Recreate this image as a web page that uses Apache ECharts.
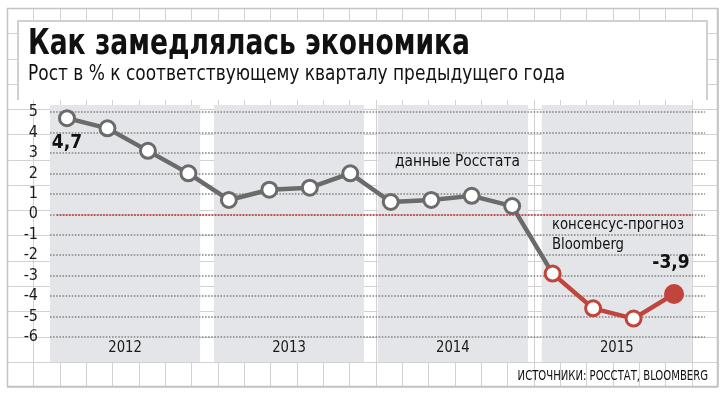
<!DOCTYPE html>
<html lang="ru">
<head>
<meta charset="UTF-8">
<title>Как замедлялась экономика</title>
<script src="https://cdn.jsdelivr.net/npm/echarts@6/dist/echarts.min.js"></script>
<style>
    html, body { margin: 0; padding: 0; background: #fff; }
    #chart { width: 726px; height: 398px; }
</style>
</head>
<body>
<div id="chart"></div>
<script type="text/javascript">
    // growth, % to the same quarter of the previous year
    const years = ['2012', '2013', '2014', '2015'];
    const rosstat = [4.7, 4.2, 3.1, 2.0, 0.7, 1.2, 1.3, 2.0, 0.6, 0.7, 0.9, 0.4];
    const bloomberg = [-2.9, -4.6, -5.1, -3.9];
    const yMin = -6, yMax = 5;

    const NARROW = "'Liberation Sans Narrow', 'DejaVu Sans Condensed', 'Roboto Condensed', 'Liberation Sans', sans-serif";
    const GREY = '#6b6b6b';
    const RED = '#c0453a';
    const comma = v => String(v).replace('.', ',');

    let chart = echarts.init(document.getElementById('chart'));

    let greyData = rosstat.map((v, i) => [i, v]);
    greyData.push({value: [rosstat.length, bloomberg[0]], symbol: 'none'});
    greyData[0] = {value: [0, rosstat[0]], label: {show: true}};

    let redData = bloomberg.map((v, i) => [rosstat.length + i, v]);
    let last = redData.length - 1;
    redData[last] = {
        value: redData[last],
        symbolSize: 17,
        itemStyle: {color: RED},
        label: {show: true}
    };

    chart.setOption({
        animation: false,
        grid: {left: 50, right: 21, top: 112, bottom: 61},
        xAxis: {type: 'value', min: -0.42, max: 15.765, show: false},
        yAxis: {
            type: 'value', min: yMin, max: yMax, interval: 1, z: 2,
            axisLine: {show: false},
            axisTick: {show: false},
            axisLabel: {color: '#1a1a1a', fontFamily: NARROW, fontSize: 16, margin: 12, padding: [7, 0, 0, 0]},
            splitLine: {lineStyle: {color: '#858585', width: 1.6, type: [1.6, 1.5]}}
        },
        series: [
            {
                type: 'line', z: 3, data: [], silent: true,
                markLine: {
                    silent: true, symbol: 'none', label: {show: false},
                    lineStyle: {color: '#d4322a', width: 1.7, type: [1.6, 1.5]},
                    data: [[{coord: [-0.25, 0]}, {coord: [15.47, 0]}]]
                }
            },
            {
                type: 'line', z: 4, data: greyData,
                symbol: 'circle', symbolSize: 15,
                lineStyle: {color: GREY, width: 4.5},
                itemStyle: {color: '#fff', borderColor: GREY, borderWidth: 3},
                label: {
                    show: false, position: 'bottom', distance: 6,
                    formatter: p => comma(p.value[1]),
                    fontFamily: NARROW, fontWeight: 'bold', fontSize: 19, color: '#111'
                }
            },
            {
                type: 'line', z: 5, data: redData,
                symbol: 'circle', symbolSize: 15,
                lineStyle: {color: RED, width: 4.5},
                itemStyle: {color: '#fff', borderColor: RED, borderWidth: 3},
                label: {
                    show: false, position: 'top', distance: 11, offset: [-3, 0],
                    formatter: p => comma(p.value[1]),
                    fontFamily: NARROW, fontWeight: 'bold', fontSize: 19, color: '#111'
                }
            }
        ]
    });

    // graph paper background, title box, year panels
    let g = [];
    const paperLine = '#d2d2d2';
    for (let k = 0; k <= 27; k++) {
        let x = Math.round(7 + k * 26.33) + 0.5;
        g.push({type: 'line', z: 0, silent: true, shape: {x1: x, y1: 8, x2: x, y2: 387},
            style: {stroke: paperLine, lineWidth: 1}});
    }
    for (let k = 0; k <= 15; k++) {
        let y = Math.round(8 + k * 25.27) + 0.5;
        g.push({type: 'line', z: 0, silent: true, shape: {x1: 7, y1: y, x2: 718, y2: y},
            style: {stroke: paperLine, lineWidth: 1}});
    }
    g.push({type: 'rect', z: 0, silent: true, shape: {x: 7.5, y: 8.5, width: 710, height: 378},
        style: {fill: null, stroke: '#c4c4c4', lineWidth: 1.5}});
    g.push({type: 'rect', z: 0, silent: true, shape: {x: 18, y: 21, width: 689, height: 79},
        style: {fill: '#fff'}});
    g.push({type: 'polyline', z: 0, silent: true,
        shape: {points: [[18, 100], [18, 21], [707, 21], [707, 100]]},
        style: {fill: null, stroke: '#d0d0d0', lineWidth: 2}});

    const PANEL_START = -0.42, PANEL_PITCH = 4.05, PANEL_W = 3.71;
    years.forEach((yr, i) => {
        let x0 = chart.convertToPixel({xAxisIndex: 0}, PANEL_START + i * PANEL_PITCH);
        let x1 = chart.convertToPixel({xAxisIndex: 0}, PANEL_START + i * PANEL_PITCH + PANEL_W);
        g.push({type: 'rect', z: 1, silent: true, shape: {x: x0, y: 105, width: x1 - x0, height: 257},
            style: {fill: '#e4e5e8'}});
        g.push({type: 'text', z: 6, silent: true, x: (x0 + x1) / 2, y: 348, scaleX: 0.92,
            style: {text: yr, fill: '#1a1a1a', font: '16px ' + NARROW, align: 'center', verticalAlign: 'middle'}});
    });

    const texts = [
        {text: 'Как замедлялась экономика', x: 28, y: 45, font: 'bold 36px ' + NARROW, sx: 0.82},
        {text: 'Рост в % к соответствующему кварталу предыдущего года', x: 28, y: 75, font: '21px ' + NARROW, sx: 0.9},
        {text: 'данные Росстата', x: 395, y: 162, font: '16px ' + NARROW, sx: 0.96},
        {text: 'консенсус-прогноз', x: 552, y: 225, font: '16px ' + NARROW, sx: 0.92},
        {text: 'Bloomberg', x: 552, y: 245, font: '16px ' + NARROW, sx: 0.92}
    ];
    texts.forEach(t => g.push({type: 'text', z: 6, silent: true, x: t.x, y: t.y, scaleX: t.sx,
        style: {text: t.text, fill: '#111', font: t.font, align: 'left', verticalAlign: 'middle'}}));
    g.push({type: 'text', z: 6, silent: true, x: 708, y: 376, scaleX: 0.8,
        style: {text: 'ИСТОЧНИКИ: РОССТАТ, BLOOMBERG', fill: '#111', font: '14px ' + NARROW,
            align: 'right', verticalAlign: 'middle'}});

    chart.setOption({graphic: g});
</script>
</body>
</html>
